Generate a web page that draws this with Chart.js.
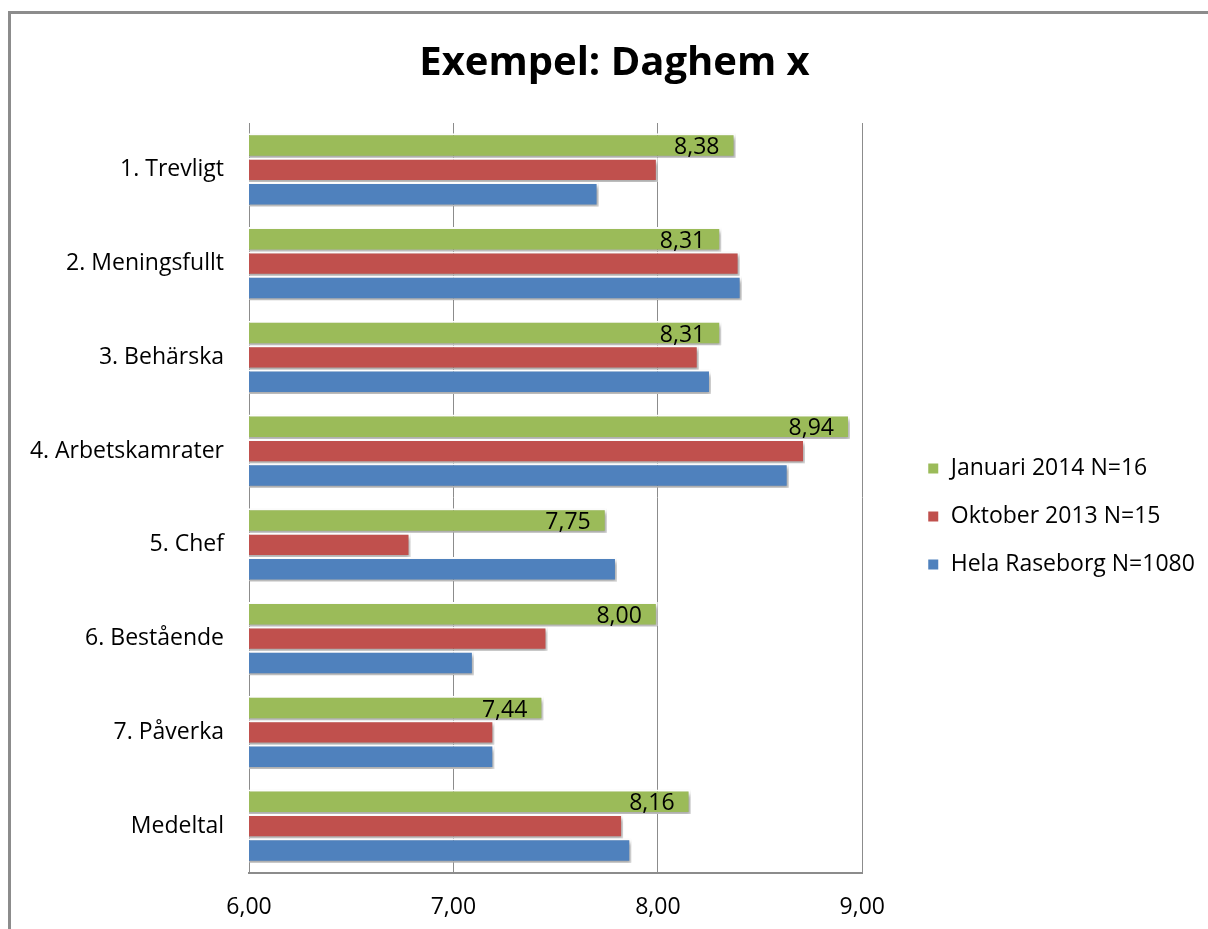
<!DOCTYPE html>
<html>
<head>
<meta charset="utf-8">
<script src="https://cdn.jsdelivr.net/npm/chart.js@4"></script>
<style>
  body { margin: 0; background: #fff; overflow: hidden; }
  #wrap { position: relative; width: 1208px; height: 929px; }
  #frame { position: absolute; left: 8px; top: 11px; right: -10px; bottom: -10px;
           border-left: 3px solid #8c8c8c; border-top: 3px solid #8c8c8c; }
</style>
</head>
<body>
<div id="wrap">
  <div id="frame"></div>
  <canvas id="myChart"></canvas>
</div>
<script>
  const categories = ['1. Trevligt', '2. Meningsfullt', '3. Behärska', '4. Arbetskamrater',
    '5. Chef', '6. Bestående', '7. Påverka', 'Medeltal'];
  const januari2014 = [8.38, 8.31, 8.31, 8.94, 7.75, 8.00, 7.44, 8.16];
  const oktober2013 = [8.00, 8.40, 8.20, 8.72, 6.79, 7.46, 7.20, 7.83];
  const helaRaseborg = [7.71, 8.41, 8.26, 8.64, 7.80, 7.10, 7.20, 7.87];
  const xTicks = [6, 7, 8, 9];

  const fmt = v => v.toFixed(2).replace('.', ',');
  const font = 'Open Sans';

  // skugga under staplarna
  const shadow = {
    id: 'shadow',
    beforeDatasetsDraw(chart) {
      const c = chart.ctx;
      c.save();
      c.shadowColor = 'rgba(0,0,0,0.35)';
      c.shadowBlur = 4;
      c.shadowOffsetX = 2;
      c.shadowOffsetY = 3;
    },
    afterDatasetsDraw(chart) {
      chart.ctx.restore();
    }
  };

  // värden på de gröna staplarna
  const valueLabels = {
    id: 'valueLabels',
    afterDatasetsDraw(chart) {
      const c = chart.ctx;
      const meta = chart.getDatasetMeta(0);
      c.save();
      c.font = '23px "' + font + '"';
      c.fillStyle = '#000';
      c.textAlign = 'right';
      c.textBaseline = 'middle';
      meta.data.forEach((bar, i) => {
        c.fillText(fmt(januari2014[i]), bar.x - 16, bar.y + 2);
      });
      c.restore();
    }
  };

  // flytta förklaring och rubrik lite
  const shiftBoxes = {
    id: 'shiftBoxes',
    afterLayout(chart) {
      const l = chart.legend;
      l.left += 40; l.right = chart.width;
      l.top += 52; l.bottom += 52;
      const t = chart.titleBlock;
      t.left += 37; t.right += 37;
    }
  };

  const ctx = document.getElementById('myChart');
  new Chart(ctx, {
    type: 'bar',
    data: {
      labels: categories,
      datasets: [{
        label: 'Januari 2014 N=16',
        data: januari2014,
        backgroundColor: '#9BBB59',
        borderColor: '#fff',
        borderWidth: 2
      }, {
        label: 'Oktober 2013 N=15',
        data: oktober2013,
        backgroundColor: '#C0504D',
        borderColor: '#fff',
        borderWidth: 2
      }, {
        label: 'Hela Raseborg N=1080',
        data: helaRaseborg,
        backgroundColor: '#4F81BD',
        borderColor: '#fff',
        borderWidth: 2
      }]
    },
    options: {
      indexAxis: 'y',
      responsive: true,
      maintainAspectRatio: false,
      animation: false,
      datasets: { bar: { categoryPercentage: 0.78, barPercentage: 1 } },
      layout: { padding: { left: 8, right: 61, bottom: 0 } },
      scales: {
        x: {
          min: 6,
          max: 9,
          afterBuildTicks: s => { s.ticks = xTicks.map(v => ({ value: v })); },
          afterFit: s => { s.height = 56; },
          ticks: { callback: v => fmt(v), color: '#000', font: { family: font, size: 23 }, padding: 21 },
          grid: { color: '#8c8c8c', drawTicks: false },
          border: { color: '#8c8c8c', width: 2 }
        },
        y: {
          afterFit: s => { s.width = 241; },
          ticks: { color: '#000', font: { family: font, size: 23 }, padding: 25 },
          grid: { display: false, drawTicks: false },
          border: { color: '#8c8c8c', width: 1 }
        }
      },
      plugins: {
        title: {
          display: true,
          text: 'Exempel: Daghem x',
          color: '#000',
          font: { family: font, size: 40, weight: 'bold' },
          padding: { top: 40, bottom: 35 }
        },
        legend: {
          position: 'right',
          labels: {
            color: '#000',
            font: { family: font, size: 23 },
            boxWidth: 12,
            boxHeight: 12,
            padding: 25
          }
        },
        tooltip: { enabled: false }
      }
    },
    plugins: [shadow, valueLabels, shiftBoxes]
  });
</script>
</body>
</html>
